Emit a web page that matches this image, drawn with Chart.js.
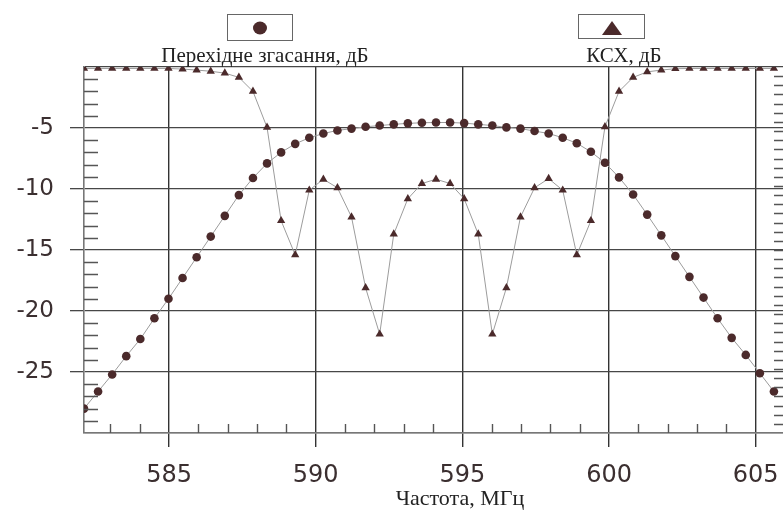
<!DOCTYPE html>
<html>
<head>
<meta charset="utf-8">
<script src="https://cdn.jsdelivr.net/npm/chart.js@4.4.1/dist/chart.umd.min.js"></script>
<style>
  html, body { margin: 0; padding: 0; background: #fff; overflow: hidden; }
  #wrap { width: 800px; height: 511px; position: relative; }
</style>
</head>
<body>
<div id="wrap"><canvas id="chart"></canvas></div>
<script>
"use strict";

// частота, МГц
const freq = [
  582.10, 582.58, 583.06, 583.54, 584.02, 584.50, 584.98, 585.46, 585.94, 586.42,
  586.90, 587.38, 587.86, 588.34, 588.82, 589.30, 589.78, 590.26, 590.74, 591.22,
  591.70, 592.18, 592.66, 593.14, 593.62, 594.10, 594.58, 595.06, 595.54, 596.02,
  596.50, 596.98, 597.46, 597.94, 598.42, 598.90, 599.38, 599.86, 600.34, 600.82,
  601.30, 601.78, 602.26, 602.74, 603.22, 603.70, 604.18, 604.66, 605.14, 605.62
];

// Перехідне згасання, дБ
const crosstalk = [
  -28.0, -26.6, -25.2, -23.7, -22.3, -20.6, -19.0, -17.3, -15.6, -13.9,
  -12.2, -10.5, -9.1, -7.9, -7.0, -6.3, -5.8, -5.45, -5.2, -5.05,
  -4.9, -4.8, -4.7, -4.62, -4.57, -4.55, -4.55, -4.6, -4.7, -4.8,
  -4.95, -5.05, -5.25, -5.45, -5.8, -6.25, -6.95, -7.85, -9.05, -10.45,
  -12.1, -13.8, -15.5, -17.2, -18.9, -20.6, -22.2, -23.6, -25.1, -26.6
];

// КСХ, дБ
const vswr = [
  -0.12, -0.12, -0.12, -0.12, -0.12, -0.12, -0.12, -0.17, -0.25, -0.35,
  -0.5, -0.85, -2.0, -4.95, -12.6, -15.4, -10.1, -9.2, -9.9, -12.3,
  -18.1, -21.9, -13.7, -10.8, -9.55, -9.2, -9.55, -10.8, -13.7, -21.9,
  -18.1, -12.3, -9.9, -9.15, -10.1, -15.4, -12.6, -4.9, -2.0, -0.85,
  -0.4, -0.25, -0.14, -0.12, -0.12, -0.12, -0.12, -0.12, -0.12, -0.12
];

const xTicks = [585, 590, 595, 600, 605];
const yTicks = [-30, -25, -20, -15, -10, -5, 0];
const yLabels = [-25, -20, -15, -10, -5];

const MARK = '#4b2a2b';
const LINE = '#9c9c9c';
const TEXT = '#3b2f30';

function toPoints(ys) {
  return freq.map((f, i) => ({ x: f, y: ys[i] }));
}

// дрібні рисочки всередину поля та легенда над графіком
const decorPlugin = {
  id: 'decor',
  afterDraw(chart) {
    const { ctx, chartArea: a, scales: { x, y } } = chart;
    ctx.save();
    ctx.strokeStyle = '#555';
    ctx.lineWidth = 1.4;
    ctx.beginPath();
    for (let v = -29; v <= -1; v++) {
      if (v % 5 === 0) continue;
      const py = Math.round(y.getPixelForValue(v)) + 0.5;
      ctx.moveTo(a.left, py); ctx.lineTo(a.left + 14, py);
    }
    for (let v = 583; v <= 606; v++) {
      if (v % 5 === 0) continue;
      const px = Math.round(x.getPixelForValue(v)) + 0.5;
      ctx.moveTo(px, a.bottom); ctx.lineTo(px, a.bottom - 9);
    }
    for (let i = 1; i < 40; i++) {
      const py = Math.round(y.getPixelForValue(-i * 0.75)) + 0.5;
      ctx.moveTo(a.right - 14, py); ctx.lineTo(a.right, py);
    }
    ctx.stroke();

    // легенда
    ctx.strokeStyle = '#666';
    ctx.lineWidth = 1;
    ctx.strokeRect(227.5, 14.5, 65, 26);
    ctx.strokeRect(578.5, 14.5, 66, 24);
    ctx.fillStyle = MARK;
    ctx.beginPath();
    ctx.ellipse(260, 28, 7, 6.5, 0, 0, Math.PI * 2);
    ctx.fill();
    ctx.beginPath();
    ctx.moveTo(612, 21); ctx.lineTo(622, 35); ctx.lineTo(602, 35);
    ctx.closePath();
    ctx.fill();

    ctx.fillStyle = '#222';
    ctx.font = '21px "Liberation Serif", serif';
    ctx.textAlign = 'center';
    ctx.textBaseline = 'alphabetic';
    ctx.fillText('Перехідне згасання, дБ', 265, 62);
    ctx.fillText('КСХ, дБ', 624, 62);

    ctx.font = '22px "Liberation Serif", serif';
    ctx.fillText('Частота, МГц', 460, 505);
    ctx.restore();
  }
};

new Chart(document.getElementById('chart'), {
  type: 'scatter',
  data: {
    datasets: [
      {
        label: 'Перехідне згасання, дБ',
        data: toPoints(crosstalk),
        showLine: true,
        borderColor: LINE,
        borderWidth: 1,
        pointStyle: 'circle',
        pointRadius: 4.3,
        pointBackgroundColor: MARK,
        pointBorderWidth: 0
      },
      {
        label: 'КСХ, дБ',
        data: toPoints(vswr),
        showLine: true,
        borderColor: LINE,
        borderWidth: 1,
        pointStyle: 'triangle',
        pointRadius: 4.8,
        pointBackgroundColor: MARK,
        pointBorderWidth: 0
      }
    ]
  },
  options: {
    responsive: true,
    maintainAspectRatio: false,
    animation: false,
    devicePixelRatio: 1,
    layout: { padding: { top: 67, left: 0, right: 12, bottom: 0 } },
    plugins: {
      legend: { display: false },
      tooltip: { enabled: false }
    },
    scales: {
      x: {
        type: 'linear',
        min: 582.1,
        max: 606.1,
        afterBuildTicks: (s) => { s.ticks = xTicks.map(v => ({ value: v })); },
        afterFit: (s) => { s.height = 78; },
        grid: { color: '#333', lineWidth: 1.4, tickLength: 14, drawTicks: true },
        border: { display: true, color: '#777', width: 1.6 },
        ticks: {
          padding: 14,
          color: TEXT,
          font: { family: '"DejaVu Sans", sans-serif', size: 24 }
        }
      },
      y: {
        type: 'linear',
        min: -30,
        max: 0,
        afterBuildTicks: (s) => { s.ticks = yTicks.map(v => ({ value: v })); },
        afterFit: (s) => { s.width = 84; },
        grid: {
          color: '#474747',
          lineWidth: 1.3,
          tickLength: 14,
          tickColor: (c) => (c.tick && yLabels.includes(c.tick.value)) ? '#474747' : 'rgba(0,0,0,0)'
        },
        border: { display: true, color: '#777', width: 1.6 },
        ticks: {
          padding: 16,
          color: TEXT,
          font: { family: '"DejaVu Sans", sans-serif', size: 23 },
          callback: (v) => yLabels.includes(v) ? String(v) : ''
        }
      }
    }
  },
  plugins: [decorPlugin]
});
</script>
</body>
</html>
